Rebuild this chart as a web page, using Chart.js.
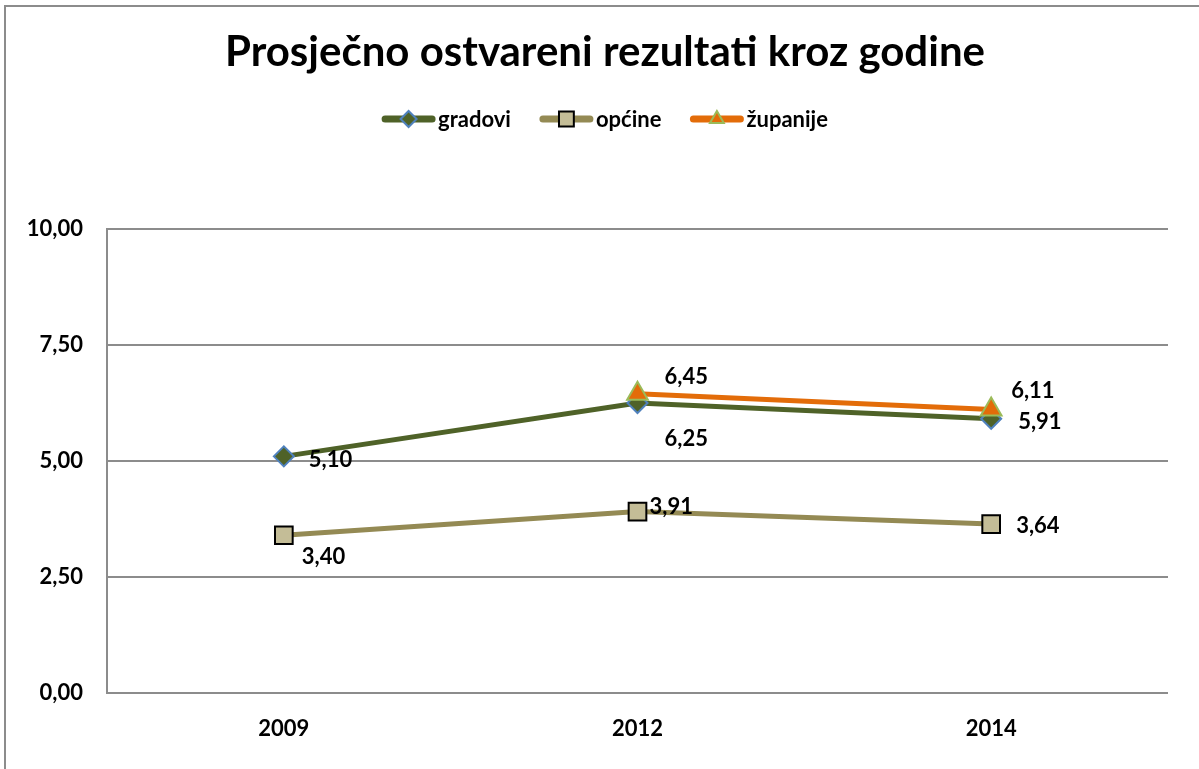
<!DOCTYPE html>
<html><head><meta charset="utf-8">
<script src="https://cdn.jsdelivr.net/npm/chart.js@4/dist/chart.umd.min.js"></script>
<style>html,body{margin:0;padding:0;background:#fff;}canvas{display:block;}</style>
</head><body>
<canvas id="c" width="1199" height="769"></canvas>
<script>
const chartTitle = 'Prosječno ostvareni rezultati kroz godine';
const categories = ['2009', '2012', '2014'];
const seriesNames = ['gradovi', 'općine', 'županije'];
const gradovi = [5.10, 6.25, 5.91];
const opcine = [3.40, 3.91, 3.64];
const zupanije = [null, 6.45, 6.11];
const yTicks = [0, 2.5, 5, 7.5, 10];

const FONT = 'Lato, Carlito, Calibri, "Open Sans", sans-serif';
const fmt = v => v.toFixed(2).replace('.', ',');

const datasets = [
  {
    label: seriesNames[0], data: gradovi, order: 2,
    borderColor: '#4F6228', borderWidth: 5,
    pointStyle: 'rectRot', pointRadius: 10, pointBackgroundColor: '#4F6228',
    pointBorderColor: '#4F81BD', pointBorderWidth: 2,
    labelOffsets: [[25, 4], [27, 36], [27, 3]]
  },
  {
    label: seriesNames[1], data: opcine, order: 1,
    borderColor: '#948A54', borderWidth: 5,
    pointStyle: 'rect', pointRadius: 12.5, pointBackgroundColor: '#C4BD97',
    pointBorderColor: '#000000', pointBorderWidth: 2,
    labelOffsets: [[18, 22], [12, -5], [25, 2]]
  },
  {
    label: seriesNames[2], data: zupanije, order: 0,
    borderColor: '#E36C09', borderWidth: 5,
    pointStyle: 'triangle', pointRadius: 12, pointBackgroundColor: '#E36C09',
    pointBorderColor: '#9BBB59', pointBorderWidth: 2,
    labelOffsets: [[0, 0], [27, -17], [20, -19]]
  }
];

const decor = {
  id: 'decor',
  beforeDraw(chart) {
    const ctx = chart.ctx;
    ctx.save();
    ctx.fillStyle = '#fff';
    ctx.fillRect(0, 0, chart.width, chart.height);
    ctx.strokeStyle = '#8c8c8c';
    ctx.lineWidth = 2;
    ctx.beginPath();
    ctx.moveTo(5, chart.height + 2);
    ctx.lineTo(5, 6);
    ctx.lineTo(chart.width + 2, 6);
    ctx.stroke();
    // title
    ctx.fillStyle = '#000';
    ctx.font = 'bold 42px ' + FONT;
    ctx.textAlign = 'center';
    ctx.textBaseline = 'middle';
    ctx.fillText(chartTitle, 605, 52);
    // legend
    ctx.font = 'bold 22px ' + FONT;
    const lineW = 53, gapT = 3, gapI = 29;
    const widths = chart.data.datasets.map(d => ctx.measureText(d.label).width);
    const total = widths.reduce((a, w) => a + lineW + gapT + w, 0) + gapI * (widths.length - 1);
    let x = 605 - total / 2;
    const y = 119;
    chart.data.datasets.forEach((d, i) => {
      ctx.strokeStyle = d.borderColor;
      ctx.lineWidth = 7;
      ctx.lineCap = 'round';
      ctx.beginPath();
      ctx.moveTo(x + 3, y);
      ctx.lineTo(x + lineW - 3, y);
      ctx.stroke();
      ctx.fillStyle = d.pointBackgroundColor;
      ctx.strokeStyle = d.pointBorderColor;
      ctx.lineWidth = 2;
      Chart.helpers.drawPoint(ctx, { pointStyle: d.pointStyle, radius: d.pointStyle === 'rect' ? 10.5 : 8, rotation: 0, borderWidth: 2 }, x + lineW / 2, y);
      ctx.fillStyle = '#000';
      ctx.textAlign = 'left';
      ctx.textBaseline = 'middle';
      ctx.fillText(d.label, x + lineW + gapT, y + 1);
      x += lineW + gapT + widths[i] + gapI;
    });
    ctx.restore();
  },
  afterDatasetsDraw(chart) {
    const ctx = chart.ctx;
    ctx.save();
    ctx.font = 'bold 22px ' + FONT;
    ctx.fillStyle = '#000';
    ctx.textAlign = 'left';
    ctx.textBaseline = 'middle';
    chart.data.datasets.forEach((d, i) => {
      const meta = chart.getDatasetMeta(i);
      meta.data.forEach((pt, j) => {
        const v = d.data[j];
        if (v === null || v === undefined) return;
        const off = d.labelOffsets[j];
        ctx.fillText(fmt(v), pt.x + off[0], pt.y + off[1]);
      });
    });
    ctx.restore();
  }
};

new Chart(document.getElementById('c'), {
  type: 'line',
  data: { labels: categories, datasets },
  options: {
    responsive: false,
    devicePixelRatio: 1,
    animation: false,
    layout: { padding: { top: 229, right: 31, left: 0, bottom: 0 } },
    plugins: { legend: { display: false }, title: { display: false }, tooltip: { enabled: false } },
    elements: { line: { tension: 0 } },
    scales: {
      x: {
        offset: true,
        grid: { display: false, drawTicks: false },
        border: { display: false },
        ticks: { color: '#000', font: { family: FONT, size: 22, weight: 'bold' }, padding: 23 },
        afterFit(s) { s.height = 76; }
      },
      y: {
        min: 0, max: 10,
        afterBuildTicks(s) { s.ticks = yTicks.map(v => ({ value: v })); },
        grid: { color: '#8c8c8c', lineWidth: 2, drawTicks: false },
        border: { display: true, color: '#8c8c8c', width: 2 },
        ticks: { color: '#000', font: { family: FONT, size: 22, weight: 'bold' }, padding: 24, callback: v => fmt(v) },
        afterFit(s) { s.width = 107; }
      }
    }
  },
  plugins: [decor]
});
</script>
</body></html>
